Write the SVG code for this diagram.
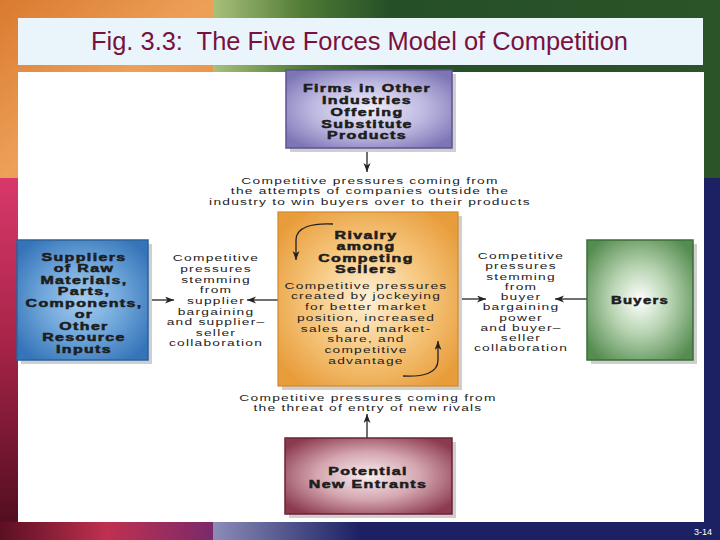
<svg xmlns="http://www.w3.org/2000/svg" width="720" height="540" viewBox="0 0 720 540">
<defs>
<linearGradient id="bgOrange" x1="0" y1="0" x2="1" y2="1">
<stop offset="0" stop-color="#d97a30"/><stop offset="0.5" stop-color="#eea058"/><stop offset="1" stop-color="#e48a40"/>
</linearGradient>
<linearGradient id="bgGreen" x1="213" y1="0" x2="720" y2="0" gradientUnits="userSpaceOnUse">
<stop offset="0" stop-color="#a8c07a"/><stop offset="0.18" stop-color="#4f7a35"/><stop offset="0.35" stop-color="#254f27"/><stop offset="1" stop-color="#2c5428"/>
</linearGradient>
<linearGradient id="bgRed" x1="0" y1="178" x2="0" y2="540" gradientUnits="userSpaceOnUse">
<stop offset="0" stop-color="#d8386a"/><stop offset="0.45" stop-color="#a82448"/><stop offset="1" stop-color="#4a0c1c"/>
</linearGradient>
<linearGradient id="bgNavyStrip" x1="213" y1="0" x2="360" y2="0" gradientUnits="userSpaceOnUse">
<stop offset="0" stop-color="#8c8cb8"/><stop offset="1" stop-color="#1b2163"/>
</linearGradient>
<linearGradient id="bgRedStrip" x1="0" y1="0" x2="213" y2="0" gradientUnits="userSpaceOnUse">
<stop offset="0" stop-color="#5a0f22"/><stop offset="0.5" stop-color="#c03050"/><stop offset="1" stop-color="#7a2a6a"/>
</linearGradient>
<radialGradient id="gPurple" cx="0.5" cy="0.5" r="0.62">
<stop offset="0" stop-color="#f0effa"/><stop offset="0.55" stop-color="#bdb8e0"/><stop offset="1" stop-color="#7d76b6"/>
</radialGradient>
<radialGradient id="gBlue" cx="0.5" cy="0.5" r="0.62">
<stop offset="0" stop-color="#a6cdf0"/><stop offset="0.5" stop-color="#6fa6da"/><stop offset="1" stop-color="#3574b8"/>
</radialGradient>
<radialGradient id="gOrange" cx="0.5" cy="0.5" r="0.62">
<stop offset="0" stop-color="#fff0d6"/><stop offset="0.5" stop-color="#f6c880"/><stop offset="1" stop-color="#e89c3a"/>
</radialGradient>
<radialGradient id="gGreen" cx="0.5" cy="0.5" r="0.62">
<stop offset="0" stop-color="#ffffff"/><stop offset="0.45" stop-color="#b8d4b2"/><stop offset="1" stop-color="#558c50"/>
</radialGradient>
<radialGradient id="gMaroon" cx="0.5" cy="0.5" r="0.62">
<stop offset="0" stop-color="#f8eef0"/><stop offset="0.5" stop-color="#d4a6b0"/><stop offset="1" stop-color="#8c3a4e"/>
</radialGradient>
<marker id="ah" markerUnits="userSpaceOnUse" markerWidth="10" markerHeight="8" refX="9" refY="3.5" orient="auto">
<path d="M0,0 L9,3.5 L0,7 L2.5,3.5 Z" fill="#222"/>
</marker>
<style>
.h{font-family:"Liberation Sans",Arial,sans-serif;font-weight:bold;font-size:10.5px;letter-spacing:0.9px;fill:#1d1d1d;stroke:#1d1d1d;stroke-width:0.5;text-anchor:middle}
.b{font-family:"Liberation Sans",Arial,sans-serif;font-size:9.5px;letter-spacing:0.85px;fill:#222;text-anchor:middle}
.shadow{fill:#cfcfcf}
.conn{fill:none;stroke:#222;stroke-width:1.3;marker-end:url(#ah)}
</style>
</defs>

<!-- background -->
<rect x="0" y="0" width="213" height="178" fill="url(#bgOrange)"/>
<rect x="213" y="0" width="507" height="178" fill="url(#bgGreen)"/>
<rect x="0" y="178" width="213" height="362" fill="url(#bgRed)"/>
<rect x="213" y="178" width="507" height="362" fill="#1b2163"/>
<rect x="0" y="522" width="213" height="18" fill="url(#bgRedStrip)"/>
<rect x="213" y="522" width="507" height="18" fill="url(#bgNavyStrip)"/>

<!-- title -->
<rect x="18" y="18" width="685" height="47" fill="#eaf5fb"/>
<text x="91" y="49.5" xml:space="preserve" font-family="'Liberation Sans',Arial,sans-serif" font-size="25" fill="#7a1040" textLength="537" lengthAdjust="spacingAndGlyphs">Fig. 3.3:  The Five Forces Model of Competition</text>

<!-- panel -->
<rect x="18" y="72" width="686" height="450" fill="#ffffff"/>

<!-- connectors -->
<g id="connectors">
<path class="conn" d="M367,148 L367,172"/>
<path class="conn" d="M367,438 L367,414"/>
<path class="conn" d="M148,300 L174,300"/>
<path class="conn" d="M278,300 L247,300"/>
<path class="conn" d="M458,299 L486,299"/>
<path class="conn" d="M587,299 L555,299"/>
</g>

<!-- labels on connectors -->
<g id="label-substitutes" transform="translate(370 0) scale(1.45 1)">
<text class="b" x="0" y="184">Competitive pressures coming from</text>
<text class="b" x="0" y="194.5">the attempts of companies outside the</text>
<text class="b" x="0" y="205">industry to win buyers over to their products</text>
</g>
<g id="label-entrants" transform="translate(368 0) scale(1.45 1)">
<text class="b" x="0" y="401">Competitive pressures coming from</text>
<text class="b" x="0" y="411.5">the threat of entry of new rivals</text>
</g>
<g id="label-suppliers" transform="translate(216 0) scale(1.45 1)">
<text class="b" x="0" y="261">Competitive</text>
<text class="b" x="0" y="272">pressures</text>
<text class="b" x="0" y="283">stemming</text>
<text class="b" x="0" y="293">from</text>
<text class="b" x="0" y="304">supplier</text>
<text class="b" x="0" y="315">bargaining</text>
<text class="b" x="0" y="325">and supplier–</text>
<text class="b" x="0" y="336">seller</text>
<text class="b" x="0" y="346">collaboration</text>
</g>
<g id="label-buyers" transform="translate(521 0) scale(1.45 1)">
<text class="b" x="0" y="259">Competitive</text>
<text class="b" x="0" y="269">pressures</text>
<text class="b" x="0" y="280">stemming</text>
<text class="b" x="0" y="290">from</text>
<text class="b" x="0" y="300">buyer</text>
<text class="b" x="0" y="310">bargaining</text>
<text class="b" x="0" y="321">power</text>
<text class="b" x="0" y="331">and buyer–</text>
<text class="b" x="0" y="341">seller</text>
<text class="b" x="0" y="351">collaboration</text>
</g>

<!-- nodes -->
<g id="substitutes">
<rect class="shadow" x="290" y="74" width="166" height="78"/>
<rect x="286" y="70" width="166" height="78" fill="url(#gPurple)" stroke="#5c5394" stroke-width="1.5"/>
<g transform="translate(367 0) scale(1.52 1)">
<text class="h" x="0" y="92">Firms in Other</text>
<text class="h" x="0" y="104">Industries</text>
<text class="h" x="0" y="116">Offering</text>
<text class="h" x="0" y="128">Substitute</text>
<text class="h" x="0" y="139.5">Products</text>
</g>
</g>

<g id="suppliers">
<rect class="shadow" x="21" y="244" width="131" height="120"/>
<rect x="17" y="240" width="131" height="120" fill="url(#gBlue)" stroke="#2d619c" stroke-width="1.5"/>
<g transform="translate(84 0) scale(1.52 1)">
<text class="h" x="0" y="261">Suppliers</text>
<text class="h" x="0" y="272.5">of Raw</text>
<text class="h" x="0" y="284">Materials,</text>
<text class="h" x="0" y="295.5">Parts,</text>
<text class="h" x="0" y="307">Components,</text>
<text class="h" x="0" y="318.5">or</text>
<text class="h" x="0" y="330">Other</text>
<text class="h" x="0" y="341.5">Resource</text>
<text class="h" x="0" y="353">Inputs</text>
</g>
</g>

<g id="rivalry">
<rect class="shadow" x="282" y="216" width="180" height="174"/>
<rect x="278" y="212" width="180" height="174" fill="url(#gOrange)" stroke="#d08a30" stroke-width="1.2"/>
<g transform="translate(366 0) scale(1.52 1)">
<text class="h" x="0" y="239">Rivalry</text>
<text class="h" x="0" y="250.5">among</text>
<text class="h" x="0" y="262">Competing</text>
<text class="h" x="0" y="273.5">Sellers</text>
</g>
<g transform="translate(366 0) scale(1.45 1)">
<text class="b" x="0" y="289">Competitive pressures</text>
<text class="b" x="0" y="299.5">created by jockeying</text>
<text class="b" x="0" y="310.5">for better market</text>
<text class="b" x="0" y="321">position, increased</text>
<text class="b" x="0" y="332">sales and market-</text>
<text class="b" x="0" y="342.5">share, and</text>
<text class="b" x="0" y="353">competitive</text>
<text class="b" x="0" y="364">advantage</text>
</g>
<path class="conn" d="M333,224 C 312,223 296,227 296,240 L296,260"/>
<path class="conn" d="M403,376 C 424,377 438,373 438,360 L438,341"/>
</g>

<g id="buyers">
<rect class="shadow" x="591" y="244" width="106" height="120"/>
<rect x="587" y="240" width="106" height="120" fill="url(#gGreen)" stroke="#3d6e3a" stroke-width="1.5"/>
<g transform="translate(640 0) scale(1.42 1)">
<text class="h" x="0" y="304">Buyers</text>
</g>
</g>

<g id="entrants">
<rect class="shadow" x="289" y="442" width="167" height="76"/>
<rect x="285" y="438" width="167" height="76" fill="url(#gMaroon)" stroke="#6e2236" stroke-width="1.5"/>
<g transform="translate(368 0) scale(1.52 1)">
<text class="h" x="0" y="475">Potential</text>
<text class="h" x="0" y="488">New Entrants</text>
</g>
</g>

<text x="712" y="535" font-family="'Liberation Sans',Arial,sans-serif" font-size="9" fill="#ffffff" text-anchor="end">3-14</text>
</svg>
